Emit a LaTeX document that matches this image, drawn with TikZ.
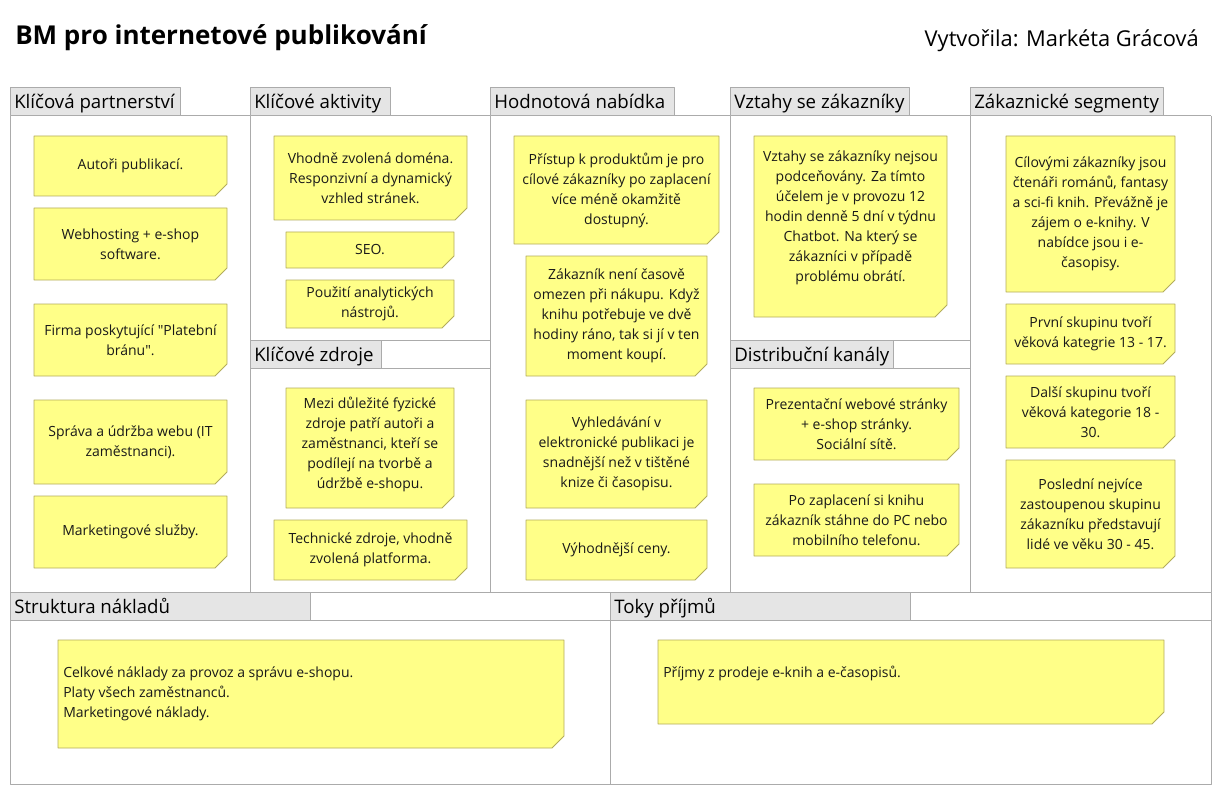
\documentclass[tikz,border=0pt]{standalone}
\usepackage{fontspec}
\setmainfont{Open Sans}
\newfontfamily\quotefont{Open Sans}
\definecolor{notefill}{HTML}{FFFF88}
\definecolor{noteline}{HTML}{B3AC5C}
\definecolor{gridline}{HTML}{ABABAB}
\definecolor{tabfill}{HTML}{E5E5E5}
% sticky note: [yshift of text] name, x1, y1, x2, y2, text
\newcommand{\sticky}[7][0]{%
  \filldraw[note] (#3,#4) -- (#5,#4) -- (#5,#6-12) -- (#5-12,#6) -- (#3,#6) -- cycle;
  \node[notetext] (#2) at ({(#3+#5)/2},{(#4+#6)/2+#1}) {#7};
}
% header tab: name, x1, y1, x2, text
\newcommand{\tabhead}[5]{%
  \filldraw[tab] (#2,#3) rectangle (#4,#3+28);
  \node[tabtext] (#1) at (#2+4,#3+21) {#5};
}
\newcommand{\qq}{{\quotefont"}}
\begin{document}
\begin{tikzpicture}[x=0.75pt,y=-0.75pt,line join=round,
  frame/.style={draw=gridline,line width=0.75pt},
  tab/.style={draw=gridline,fill=tabfill,line width=0.75pt},
  tabtext/.style={anchor=base west,inner sep=0pt,font=\fontsize{14}{16}\selectfont},
  note/.style={fill=notefill,draw=noteline,line width=0.6pt},
  notetext/.style={align=center,inner sep=0pt,text=black!90,font=\fontsize{10.5}{15}\selectfont},
  lefttext/.style={align=left,anchor=west,inner sep=0pt,text=black!90,font=\fontsize{10.5}{15}\selectfont}]
\useasboundingbox (0,0) rectangle (1221,795);
% title
\node[anchor=base west,inner sep=0pt,font=\fontsize{19.5}{22}\selectfont\bfseries] (title) at (15,45) {BM pro internetové publikování};
\node[anchor=base east,inner sep=0pt,font=\fontsize{16.4}{19}\selectfont] (author) at (1199,47) {Vytvořila: Markéta Grácová};
% canvas grid
\draw[frame] (10,116) -- (1211,116);
\foreach \x in {10,250,490,730,970,1211}
  \draw[frame] (\x,116) -- (\x,592);
\draw[frame] (250,340) -- (490,340) (250,368) -- (490,368);
\draw[frame] (730,340) -- (970,340) (730,368) -- (970,368);
\draw[frame] (10,592) rectangle (1211,784);
\draw[frame] (10,620) -- (1211,620);
\draw[frame] (610,592) -- (610,784);
% headers
\tabhead{kp}{10}{88}{180}{Klíčová partnerství}
\tabhead{ka}{250}{88}{390}{Klíčové aktivity}
\tabhead{hn}{490}{88}{674}{Hodnotová nabídka}
\tabhead{vz}{730}{88}{909}{Vztahy se zákazníky}
\tabhead{zs}{970}{88}{1163}{Zákaznické segmenty}
\tabhead{kz}{250}{340}{381}{Klíčové zdroje}
\tabhead{dk}{730}{340}{893}{Distribuční kanály}
\tabhead{sn}{10}{592}{310}{Struktura nákladů}
\tabhead{tp}{610}{592}{910}{Toky příjmů}
% Klíčová partnerství
\sticky{kp1}{34}{136}{227}{196}{Autoři publikací.}
\sticky{kp2}{34}{208}{227}{280}{Webhosting + e-shop\\software.}
\sticky{kp3}{34}{304}{227}{376}{Firma poskytující \qq Platební\\bránu\qq.}
\sticky{kp4}{34}{400}{227}{484}{Správa a údržba webu (IT\\zaměstnanci).}
\sticky{kp5}{34}{496}{227}{568}{Marketingové služby.}
% Klíčové aktivity
\sticky{ka1}{274}{136}{467}{220}{Vhodně zvolená doména.\\Responzivní a dynamický\\vzhled stránek.}
\sticky{ka2}{286}{232}{454}{268}{SEO.}
\sticky{ka3}{286}{280}{454}{328}{Použití analytických\\nástrojů.}
% Klíčové zdroje
\sticky[-4]{kz1}{286}{388}{454}{508}{Mezi důležité fyzické\\zdroje patří autoři a\\zaměstnanci, kteří se\\podílejí na tvorbě a\\údržbě e-shopu.}
\sticky{kz2}{274}{520}{467}{580}{Technické zdroje, vhodně\\zvolená platforma.}
% Hodnotová nabídka
\sticky{hn1}{514}{136}{719}{244}{Přístup k produktům je pro\\cílové zákazníky po zaplacení\\více méně okamžitě\\dostupný.}
\sticky{hn2}{526}{256}{707}{376}{Zákazník není časově\\omezen při nákupu. Když\\knihu potřebuje ve dvě\\hodiny ráno, tak si jí v ten\\moment koupí.}
\sticky{hn3}{526}{400}{707}{508}{Vyhledávání v\\elektronické publikaci je\\snadnější než v tištěné\\knize či časopisu.}
\sticky{hn4}{526}{520}{707}{580}{Výhodnější ceny.}
% Vztahy se zákazníky
\sticky[-9]{vz1}{754}{136}{947}{317}{Vztahy se zákazníky nejsou\\podceňovány. Za tímto\\účelem je v provozu 12\\hodin denně 5 dní v týdnu\\Chatbot. Na který se\\zákazníci v případě\\problému obrátí.}
% Distribuční kanály
\sticky{dk1}{754}{388}{959}{460}{Prezentační webové stránky\\+ e-shop stránky.\\Sociální sítě.}
\sticky{dk2}{754}{484}{959}{556}{Po zaplacení si knihu\\zákazník stáhne do PC nebo\\mobilního telefonu.}
% Zákaznické segmenty
\sticky{zs1}{1006}{136}{1175}{292}{Cílovými zákazníky jsou\\čtenáři románů, fantasy\\a sci-fi knih. Převážně je\\zájem o e-knihy. V\\nabídce jsou i e-\\časopisy.}
\sticky{zs2}{1006}{304}{1175}{364}{První skupinu tvoří\\věková kategrie 13 - 17.}
\sticky{zs3}{1006}{376}{1175}{448}{Další skupinu tvoří\\věková kategorie 18 -\\30.}
\sticky{zs4}{1006}{460}{1175}{568}{Poslední nejvíce\\zastoupenou skupinu\\zákazníku představují\\lidé ve věku 30 - 45.}
% Struktura nákladů, Toky příjmů
\filldraw[note] (58,640) -- (564,640) -- (564,736) -- (552,748) -- (58,748) -- cycle;
\node[lefttext] (sn1) at (63,694) {Celkové náklady za provoz a správu e-shopu.\\Platy všech zaměstnanců.\\Marketingové náklady.};
\filldraw[note] (658,640) -- (1164,640) -- (1164,712) -- (1152,724) -- (658,724) -- cycle;
\node[lefttext] (tp1) at (663,673) {Příjmy z prodeje e-knih a e-časopisů.};
\end{tikzpicture}
\end{document}
